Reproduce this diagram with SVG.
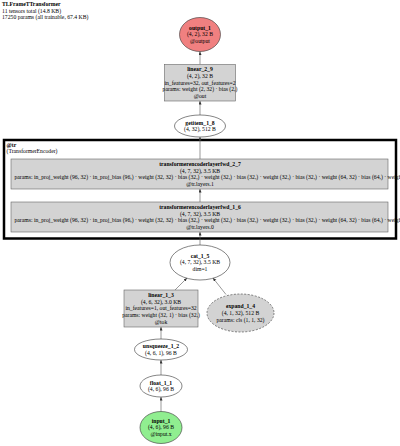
<svg xmlns="http://www.w3.org/2000/svg" width="400" height="446" viewBox="0 0 400 446">
<defs>
<marker id="ah" markerUnits="userSpaceOnUse" markerWidth="4" markerHeight="4" refX="3.5" refY="1.5" orient="auto">
<path d="M0,0 L3.5,1.5 L0,3 Z" fill="#333"/>
</marker>
<style>
text { font-family: "Liberation Serif", "Times New Roman", serif; font-size: 5.7px; fill: #000; }
.m { text-anchor: middle; }
.b { font-weight: bold; }
.ell { fill: #fff; stroke: #333; stroke-width: 0.6; }
.box { fill: #d3d3d3; stroke: #666; stroke-width: 0.6; }
.edge { stroke: #555; stroke-width: 0.6; fill: none; marker-end: url(#ah); }
</style>
</defs>
<rect width="400" height="446" fill="#fff"/>
<g id="title">
<text x="2" y="6" class="b">TLFrameTTransformer</text>
<text x="2" y="12.6">11 tensors total (14.8 KB)</text>
<text x="2" y="19.2">17250 params (all trainable, 67.4 KB)</text>
</g>
<g id="cluster_tr">
<rect x="4" y="140" width="392" height="98.5" fill="none" stroke="#000" stroke-width="2.5"/>
<text x="6.5" y="147" class="b">@tr</text>
<text x="6.5" y="153">(TransformerEncoder)</text>
</g>
<g id="connectors">
<line class="edge" x1="161" y1="411.5" x2="161" y2="397"/>
<line class="edge" x1="161" y1="375" x2="161" y2="360"/>
<line class="edge" x1="161" y1="339" x2="161" y2="327"/>
<line class="edge" x1="175" y1="290" x2="187" y2="278"/>
<line class="edge" x1="226" y1="294.5" x2="213" y2="278"/>
<line class="edge" x1="200" y1="245" x2="200" y2="232"/>
<line class="edge" x1="200" y1="202" x2="200" y2="189"/>
<line class="edge" x1="200" y1="159" x2="200" y2="137"/>
<line class="edge" x1="200" y1="115" x2="200" y2="101"/>
<line class="edge" x1="200" y1="64.5" x2="200" y2="51.5"/>
</g>
<g id="output_1">
<ellipse cx="200" cy="34.5" rx="20.5" ry="17" fill="#f08080" stroke="#333" stroke-width="0.6"/>
<text x="200" y="29.7" class="m b">output_1</text>
<text x="200" y="36.4" class="m">(4, 2), 32 B</text>
<text x="200" y="43.1" class="m">@output</text>
</g>
<g id="linear_2_9">
<rect class="box" x="164.5" y="64.5" width="71" height="36.5"/>
<text x="200" y="71.25" class="m b">linear_2_9</text>
<text x="200" y="77.95" class="m">(4, 2), 32 B</text>
<text x="200" y="84.65" class="m">in_features=32, out_features=2</text>
<text x="200" y="91.35" class="m">params: weight (2, 32) · bias (2,)</text>
<text x="200" y="98.05" class="m">@out</text>
</g>
<g id="getitem_1_8">
<ellipse class="ell" cx="200" cy="126" rx="25.5" ry="11"/>
<text x="200" y="124.55" class="m b">getitem_1_8</text>
<text x="200" y="131.25" class="m">(4, 32), 512 B</text>
</g>
<g id="transformerencoderlayerfwd_2_7">
<rect class="box" x="11" y="159" width="377" height="30"/>
<text x="200" y="165.85" class="m b">transformerencoderlayerfwd_2_7</text>
<text x="200" y="172.55" class="m">(4, 7, 32), 3.5 KB</text>
<text x="14.5" y="179.25">params: in_proj_weight (96, 32) · in_proj_bias (96,) · weight (32, 32) · bias (32,) · weight (32,) · bias (32,) · weight (32,) · bias (32,) · weight (64, 32) · bias (64,) · weight (32, 64) · bias (32,)</text>
<text x="200" y="185.95" class="m">@tr.layers.1</text>
</g>
<g id="transformerencoderlayerfwd_1_6">
<rect class="box" x="11" y="202" width="377" height="30"/>
<text x="200" y="208.85" class="m b">transformerencoderlayerfwd_1_6</text>
<text x="200" y="215.55" class="m">(4, 7, 32), 3.5 KB</text>
<text x="14.5" y="222.25">params: in_proj_weight (96, 32) · in_proj_bias (96,) · weight (32, 32) · bias (32,) · weight (32,) · bias (32,) · weight (32,) · bias (32,) · weight (64, 32) · bias (64,) · weight (32, 64) · bias (32,)</text>
<text x="200" y="228.95" class="m">@tr.layers.0</text>
</g>
<g id="cat_1_5">
<ellipse class="ell" cx="200" cy="262.5" rx="30" ry="17.5"/>
<text x="200" y="257.7" class="m b">cat_1_5</text>
<text x="200" y="264.4" class="m">(4, 7, 32), 3.5 KB</text>
<text x="200" y="271.1" class="m">dim=1</text>
</g>
<g id="linear_1_3">
<rect class="box" x="124" y="290" width="74" height="37"/>
<text x="161" y="297" class="m b">linear_1_3</text>
<text x="161" y="303.7" class="m">(4, 6, 32), 3.0 KB</text>
<text x="161" y="310.4" class="m">in_features=1, out_features=32</text>
<text x="161" y="317.1" class="m">params: weight (32, 1) · bias (32,)</text>
<text x="161" y="323.8" class="m">@tok</text>
</g>
<g id="expand_1_4">
<ellipse cx="240.5" cy="313" rx="33.5" ry="19" fill="#d3d3d3" stroke="#333" stroke-width="0.6" stroke-dasharray="2,1.5"/>
<text x="240.5" y="308.2" class="m b">expand_1_4</text>
<text x="240.5" y="314.9" class="m">(4, 1, 32), 512 B</text>
<text x="240.5" y="321.6" class="m">params: cls (1, 1, 32)</text>
</g>
<g id="unsqueeze_1_2">
<ellipse class="ell" cx="161" cy="349.5" rx="26.5" ry="10.5"/>
<text x="161" y="348.05" class="m b">unsqueeze_1_2</text>
<text x="161" y="354.75" class="m">(4, 6, 1), 96 B</text>
</g>
<g id="float_1_1">
<ellipse class="ell" cx="161" cy="386" rx="21" ry="11"/>
<text x="161" y="384.55" class="m b">float_1_1</text>
<text x="161" y="391.25" class="m">(4, 6), 96 B</text>
</g>
<g id="input_1">
<ellipse cx="161" cy="427.5" rx="21" ry="16" fill="#90ee90" stroke="#333" stroke-width="0.6"/>
<text x="161" y="422.7" class="m b">input_1</text>
<text x="161" y="429.4" class="m">(4, 6), 96 B</text>
<text x="161" y="436.1" class="m">@input.x</text>
</g>
</svg>
